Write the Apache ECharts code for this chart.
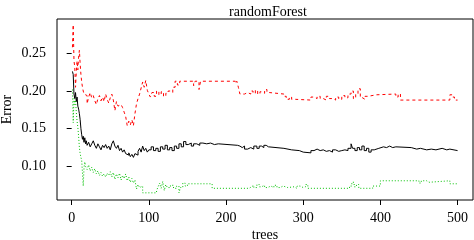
<!DOCTYPE html>
<html>
<head>
<meta charset="utf-8">
<script src="https://cdn.jsdelivr.net/npm/echarts@6/dist/echarts.min.js"></script>
<style>
  html, body { margin: 0; padding: 0; background: #fff; }
  #chart { width: 474px; height: 240px; }
</style>
</head>
<body>
<div id="chart"></div>
<script>
var xTicks = [0, 100, 200, 300, 400, 500];
var yTicks = [0.10, 0.15, 0.20, 0.25];

// OOB error (black, solid)
var oobTrees = [1, 2, 3, 4, 5, 6, 7, 8, 9, 10, 11, 12, 13, 14, 15, 16, 17, 18, 19, 20,
  22, 24, 26, 28, 30, 32, 34, 36, 38, 40, 42, 44, 46, 48, 50, 52, 54, 56, 58, 60,
  62, 64, 66, 68, 70, 72, 74, 76, 78, 80, 82, 84, 86, 88, 90, 92, 94, 96, 98, 100,
  103, 106, 109, 112, 115, 118, 121, 124, 127, 130, 133, 136, 139, 142, 145, 148, 151, 155, 158, 162,
  166, 170, 175, 180, 185, 190, 215, 218, 221, 224, 228, 232, 236, 240, 243, 246, 249, 252, 255, 275,
  285, 295, 300, 310, 314, 318, 322, 326, 330, 334, 338, 342, 346, 350, 354, 358, 362, 364, 367, 370,
  373, 376, 379, 382, 385, 388, 392, 398, 404, 408, 412, 416, 420, 440, 447, 452, 460, 466, 472, 480,
  486, 490, 500];
var oobErr = [0.226, 0.222, 0.196, 0.190, 0.198, 0.186, 0.192, 0.180, 0.176, 0.170, 0.162, 0.150, 0.142, 0.136, 0.140, 0.132, 0.138, 0.130, 0.134, 0.128,
  0.132, 0.126, 0.130, 0.134, 0.128, 0.124, 0.130, 0.126, 0.122, 0.128, 0.125, 0.129, 0.124, 0.127, 0.122, 0.130, 0.134, 0.127, 0.124, 0.128,
  0.121, 0.124, 0.119, 0.122, 0.117, 0.115, 0.118, 0.113, 0.116, 0.112, 0.117, 0.115, 0.120, 0.124, 0.119, 0.127, 0.121, 0.124, 0.119, 0.122,
  0.126, 0.121, 0.124, 0.120, 0.126, 0.123, 0.128, 0.122, 0.125, 0.121, 0.127, 0.124, 0.130, 0.126, 0.133, 0.129, 0.131, 0.127, 0.130, 0.128,
  0.131, 0.130, 0.131, 0.129, 0.130, 0.128, 0.127, 0.125, 0.127, 0.123, 0.125, 0.123, 0.127, 0.124, 0.127, 0.125, 0.128, 0.126, 0.124, 0.122,
  0.121, 0.119, 0.118, 0.121, 0.123, 0.121, 0.122, 0.120, 0.121, 0.119, 0.122, 0.120, 0.121, 0.122, 0.121, 0.124, 0.130, 0.124, 0.121, 0.125,
  0.122, 0.127, 0.121, 0.124, 0.119, 0.122, 0.124, 0.126, 0.125, 0.127, 0.125, 0.126, 0.125, 0.123, 0.124, 0.122, 0.123, 0.122, 0.124, 0.122,
  0.123, 0.121, 0.121];

// class 1 error (red, dashed)
var c1Trees = [1, 2, 3, 4, 5, 6, 7, 8, 9, 10, 11, 12, 13, 14, 15, 16, 18, 20, 22, 24,
  26, 28, 30, 32, 34, 36, 38, 40, 42, 44, 46, 48, 50, 52, 54, 56, 58, 60, 62, 64,
  66, 68, 70, 72, 74, 76, 78, 80, 82, 84, 86, 88, 90, 92, 94, 96, 98, 100, 102, 104,
  107, 110, 113, 116, 119, 122, 125, 128, 131, 134, 137, 140, 150, 152, 158, 160, 165, 167, 212, 214,
  216, 218, 224, 228, 232, 235, 238, 241, 244, 247, 250, 253, 256, 275, 278, 282, 285, 290, 310, 314,
  318, 322, 326, 330, 334, 338, 342, 346, 350, 354, 358, 362, 365, 368, 371, 374, 377, 380, 384, 395,
  420, 423, 426, 490, 493, 496, 500];
var c1Err = [0.258, 0.288, 0.240, 0.232, 0.205, 0.225, 0.240, 0.228, 0.245, 0.254, 0.236, 0.222, 0.212, 0.205, 0.200, 0.196, 0.194, 0.183, 0.192, 0.198,
  0.191, 0.194, 0.187, 0.182, 0.190, 0.194, 0.187, 0.192, 0.186, 0.196, 0.189, 0.184, 0.191, 0.196, 0.188, 0.174, 0.186, 0.180, 0.182, 0.180,
  0.178, 0.172, 0.166, 0.154, 0.160, 0.155, 0.162, 0.154, 0.170, 0.183, 0.190, 0.196, 0.204, 0.212, 0.205, 0.214, 0.201, 0.196, 0.192, 0.198,
  0.193, 0.200, 0.195, 0.199, 0.193, 0.197, 0.200, 0.198, 0.205, 0.213, 0.208, 0.213, 0.211, 0.213, 0.207, 0.213, 0.202, 0.213, 0.210, 0.213,
  0.205, 0.196, 0.198, 0.196, 0.200, 0.197, 0.201, 0.196, 0.199, 0.197, 0.202, 0.198, 0.196, 0.193, 0.189, 0.192, 0.189, 0.188, 0.192, 0.190,
  0.193, 0.190, 0.188, 0.193, 0.190, 0.188, 0.192, 0.189, 0.194, 0.191, 0.196, 0.200, 0.190, 0.196, 0.203, 0.191, 0.189, 0.193, 0.195, 0.196,
  0.192, 0.196, 0.188, 0.195, 0.192, 0.188, 0.188];

// class 2 error (green, dotted)
var c2Trees = [1, 2, 3, 4, 5, 6, 7, 8, 9, 10, 11, 12, 13, 14, 15, 16, 17, 18, 20, 22,
  24, 26, 28, 30, 32, 34, 36, 38, 40, 42, 44, 46, 48, 50, 52, 54, 56, 58, 60, 62,
  64, 66, 68, 70, 72, 74, 76, 78, 80, 82, 84, 86, 88, 90, 92, 110, 112, 114, 116, 118,
  120, 122, 124, 128, 132, 136, 139, 141, 144, 147, 150, 182, 230, 233, 236, 240, 243, 246, 250, 254,
  258, 262, 266, 270, 274, 280, 288, 292, 296, 300, 303, 306, 360, 363, 366, 369, 372, 390, 400, 450,
  453, 460, 463, 490, 500];
var c2Err = [0.202, 0.158, 0.190, 0.182, 0.188, 0.172, 0.160, 0.152, 0.140, 0.125, 0.117, 0.112, 0.108, 0.110, 0.074, 0.098, 0.106, 0.100, 0.096, 0.102,
  0.094, 0.099, 0.092, 0.097, 0.090, 0.094, 0.088, 0.092, 0.087, 0.090, 0.086, 0.091, 0.088, 0.093, 0.086, 0.092, 0.083, 0.090, 0.085, 0.091,
  0.082, 0.088, 0.084, 0.090, 0.081, 0.086, 0.079, 0.084, 0.078, 0.082, 0.070, 0.076, 0.072, 0.074, 0.065, 0.068, 0.073, 0.078, 0.071, 0.080,
  0.068, 0.076, 0.072, 0.075, 0.071, 0.074, 0.065, 0.072, 0.078, 0.074, 0.077, 0.071, 0.073, 0.075, 0.072, 0.076, 0.073, 0.075, 0.072, 0.074,
  0.072, 0.075, 0.072, 0.074, 0.072, 0.073, 0.071, 0.074, 0.072, 0.073, 0.076, 0.071, 0.074, 0.079, 0.073, 0.076, 0.071, 0.074, 0.081, 0.078,
  0.081, 0.079, 0.081, 0.077, 0.077];

function pairs(xs, ys) {
  return xs.map(function (x, i) { return [x, ys[i]]; });
}

var font = "'Liberation Serif', 'DejaVu Serif', serif";

function lineSeries(name, xs, ys, color, dash) {
  return {
    name: name,
    type: 'line',
    step: 'end',
    showSymbol: false,
    silent: true,
    data: pairs(xs, ys),
    lineStyle: { color: color, width: 1, type: dash }
  };
}

var chart = echarts.init(document.getElementById('chart'));
chart.setOption({
  animation: false,
  backgroundColor: '#fff',
  textStyle: { fontFamily: font, color: '#000' },
  title: {
    text: 'randomForest',
    left: 263, top: 0,
    textAlign: 'center',
    textStyle: { fontFamily: font, fontSize: 14, fontWeight: 'normal', color: '#000' }
  },
  grid: {
    left: 57, right: 1, top: 19, bottom: 40,
    outerBoundsMode: 'none',
    containLabel: false,
    show: true, borderColor: '#000', borderWidth: 1
  },
  xAxis: {
    type: 'value',
    min: -19, max: 520,
    name: 'trees',
    nameLocation: 'middle',
    nameGap: 28,
    nameMoveOverlap: false,
    nameTextStyle: { fontFamily: font, fontSize: 14, color: '#000' },
    axisLine: { show: false },
    axisTick: { show: true, inside: false, length: 5, customValues: xTicks, lineStyle: { color: '#000' } },
    axisLabel: { customValues: xTicks, margin: 11, fontFamily: font, fontSize: 14, color: '#000' },
    splitLine: { show: false }
  },
  yAxis: {
    type: 'value',
    min: 0.0555, max: 0.2955,
    name: 'Error',
    nameLocation: 'middle',
    nameGap: 43,
    nameRotate: 90,
    nameMoveOverlap: false,
    nameTextStyle: { fontFamily: font, fontSize: 14, color: '#000' },
    axisLine: { show: false },
    axisTick: { show: true, inside: false, length: 5, customValues: yTicks, lineStyle: { color: '#000' } },
    axisLabel: {
      customValues: yTicks, margin: 11, fontFamily: font, fontSize: 14, color: '#000',
      formatter: function (v) { return v.toFixed(2); }
    },
    splitLine: { show: false }
  },
  series: [
    lineSeries('OOB', oobTrees, oobErr, '#000000', 'solid'),
    lineSeries('1', c1Trees, c1Err, '#ff0000', [3, 3]),
    lineSeries('2', c2Trees, c2Err, '#00c000', [1, 2])
  ]
});
</script>
</body>
</html>
